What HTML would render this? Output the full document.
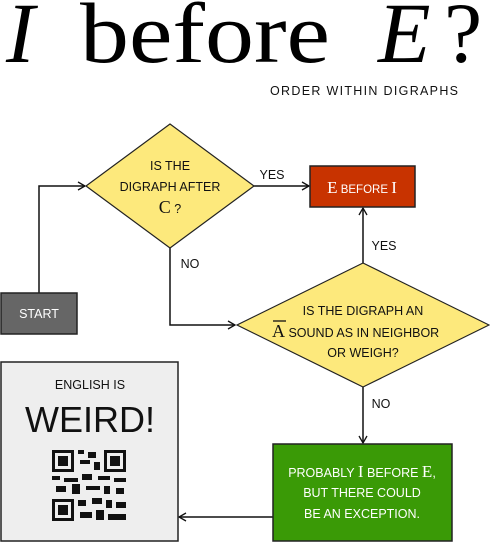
<!DOCTYPE html>
<html><head><meta charset="utf-8"><style>
html,body{margin:0;padding:0;background:#fff;width:490px;height:542px;overflow:hidden}
svg{display:block}
.c{font-family:"Liberation Sans",sans-serif;font-size:12.5px;fill:#111}
.s{font-family:"Liberation Serif",serif}
</style></head><body>
<svg width="490" height="542" viewBox="0 0 490 542" xmlns="http://www.w3.org/2000/svg">
<defs><marker id="a" markerWidth="10" markerHeight="10" refX="8" refY="5" orient="auto" markerUnits="userSpaceOnUse"><path d="M1,1 L8,5 L1,9" fill="none" stroke="#111" stroke-width="1.3"/></marker></defs>
<g class="s" font-size="86" fill="#000">
<text x="6" y="62" font-style="italic">I</text>
<text x="80" y="62" textLength="250" lengthAdjust="spacingAndGlyphs">before</text>
<text x="378" y="62" font-style="italic">E</text>
<text x="444" y="62">?</text>
</g>
<text class="c" x="270" y="95" font-size="13" textLength="188">ORDER WITHIN DIGRAPHS</text>
<g stroke="#111" stroke-width="1.5" fill="none">
<path d="M39,293 V186 H85" marker-end="url(#a)"/>
<path d="M254,186 H309" marker-end="url(#a)"/>
<path d="M170,248 V325 H235" marker-end="url(#a)"/>
<path d="M363,263 V208" marker-end="url(#a)"/>
<path d="M363,387 V443" marker-end="url(#a)"/>
<path d="M273,517 H179" marker-end="url(#a)"/>
</g>
<polygon points="170,124 254,186 170,248 86,186" fill="#fde97c" stroke="#222" stroke-width="1.2"/>
<polygon points="363,263 489,325 363,387 237,325" fill="#fde97c" stroke="#222" stroke-width="1.2"/>
<rect x="310" y="166" width="105" height="41" fill="#c83300" stroke="#222" stroke-width="1.5"/>
<rect x="1" y="293" width="76" height="41" fill="#666" stroke="#222" stroke-width="1.5"/>
<rect x="273" y="444" width="179" height="97" fill="#3a9a06" stroke="#222" stroke-width="1.5"/>
<rect x="1" y="362" width="177" height="179" fill="#eee" stroke="#222" stroke-width="1.5"/>
<g class="c" text-anchor="middle">
<text x="170" y="170">IS THE</text>
<text x="170" y="191">DIGRAPH AFTER</text>
<text x="170" y="213"><tspan class="s" font-size="18">C</tspan> ?</text>
<text x="272" y="179">YES</text>
<text x="190" y="268">NO</text>
<text x="384" y="250">YES</text>
<text x="381" y="408">NO</text>
<text x="39" y="318" fill="#fff">START</text>
<text x="362" y="193" fill="#fff" font-size="11.5"><tspan class="s" font-size="17">E</tspan> BEFORE <tspan class="s" font-size="17">I</tspan></text>
<text x="363" y="315">IS THE DIGRAPH AN</text>
<text x="363" y="357">OR WEIGH?</text>
<text x="362" y="477" fill="#fff"><tspan>PROBABLY </tspan><tspan class="s" font-size="17">I</tspan> BEFORE <tspan class="s" font-size="17">E</tspan>,</text>
<text x="362" y="497" fill="#fff">BUT THERE COULD</text>
<text x="362" y="518" fill="#fff">BE AN EXCEPTION.</text>
<text x="90" y="389">ENGLISH IS</text>
<text x="90" y="432" font-size="36">WEIRD!</text>
</g>
<text class="c" x="272" y="337"><tspan class="s" font-size="18">A</tspan> SOUND AS IN NEIGHBOR</text>
<line x1="273" y1="321" x2="286" y2="321" stroke="#111" stroke-width="1.3"/>
<g fill="#111">
<rect x="52" y="450" width="22" height="22"/><rect x="55" y="453" width="16" height="16" fill="#eee"/><rect x="58" y="456" width="10" height="10"/>
<rect x="104" y="450" width="22" height="22"/><rect x="107" y="453" width="16" height="16" fill="#eee"/><rect x="110" y="456" width="10" height="10"/>
<rect x="52" y="499" width="22" height="22"/><rect x="55" y="502" width="16" height="16" fill="#eee"/><rect x="58" y="505" width="10" height="10"/>
<rect x="78" y="450" width="6" height="4"/><rect x="88" y="452" width="8" height="6"/><rect x="80" y="460" width="10" height="4"/><rect x="94" y="462" width="6" height="8"/>
<rect x="52" y="476" width="8" height="4"/><rect x="64" y="478" width="14" height="4"/><rect x="82" y="474" width="10" height="6"/><rect x="98" y="476" width="12" height="4"/><rect x="114" y="478" width="12" height="4"/>
<rect x="56" y="486" width="10" height="6"/><rect x="72" y="484" width="8" height="10"/><rect x="86" y="486" width="14" height="4"/><rect x="104" y="486" width="6" height="8"/><rect x="116" y="488" width="8" height="6"/>
<rect x="78" y="500" width="8" height="6"/><rect x="92" y="498" width="10" height="6"/><rect x="106" y="500" width="6" height="8"/><rect x="116" y="502" width="10" height="6"/>
<rect x="80" y="512" width="12" height="6"/><rect x="96" y="510" width="8" height="10"/><rect x="108" y="514" width="18" height="6"/>
</g>
</svg>
</body></html>
